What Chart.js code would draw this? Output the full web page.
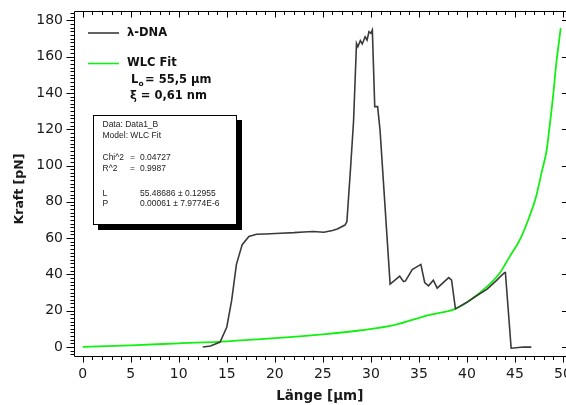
<!DOCTYPE html>
<html>
<head>
<meta charset="utf-8">
<script src="https://cdn.jsdelivr.net/npm/chart.js@4.4.1/dist/chart.umd.min.js"></script>
<style>
  html, body { margin: 0; padding: 0; background: #fff; overflow: hidden; }
  #wrap { width: 566px; height: 405px; }
</style>
</head>
<body>
<div id="wrap"><canvas id="chart" width="566" height="405"></canvas></div>
<script>
// λ-DNA Messkurve (Länge in µm, Kraft in pN)
const dnaX = [12.5, 13.3, 14.3, 15.0, 15.5, 16.0, 16.6, 17.3, 18.1, 19.0, 20.6, 22.0, 23.0, 24.0, 25.1, 26.0, 26.5, 27.3, 27.5, 27.9,
              28.2, 28.5, 28.65, 28.9, 29.1, 29.4, 29.6, 29.8, 30.0, 30.15, 30.4, 30.7, 30.95, 32.0, 33.0, 33.4, 33.6, 34.3, 35.2, 35.6,
              36.0, 36.5, 36.9, 38.1, 38.4, 38.8, 40.0, 41.0, 42.1, 43.0, 43.9, 44.0, 44.6, 45.9, 46.7];
const dnaY = [0, 0.5, 2.7, 11, 25.5, 45.5, 56.4, 60.9, 62.1, 62.3, 62.7, 63.0, 63.4, 63.6, 63.2, 64.2, 65.0, 67.2, 69, 100,
              125, 167.4, 165.5, 168.9, 167, 171, 169.2, 173.8, 172.9, 174.7, 132.5, 132.5, 119.6, 34.6, 39, 36, 36.4, 42.7, 45.5, 35.5,
              33.7, 36.8, 32.4, 38.2, 36.8, 21.0, 24.6, 28.2, 31.9, 36.3, 40.9, 41, -0.7, 0, -0.1];

// WLC Fit
const fitX = [0, 5, 10, 15, 20, 25, 29, 32.4, 35.9, 38.8, 40, 41.7, 43.4, 44.45, 45.5, 46.5, 47.2, 47.75, 48.3, 48.6, 48.96, 49.3, 49.76];
const fitY = [0, 0.9, 2.0, 3.1, 4.8, 6.9, 9.2, 12, 17.4, 21, 24.6, 31.4, 40.6, 49.8, 59, 71.8, 82.9, 95.7, 108.6, 121.4, 138, 156.4, 175.7];

const xTicks = [0, 5, 10, 15, 20, 25, 30, 35, 40, 45, 50];
const yTicks = [0, 20, 40, 60, 80, 100, 120, 140, 160, 180];

const statRows = [
  ['Data: Data1_B'],
  ['Model: WLC Fit'],
  [],
  ['Chi^2', '=', '0.04727'],
  ['R^2', '=', '0.9987'],
  [],
  ['L', '55.48686', '± 0.12955'],
  ['P', '0.00061', '± 7.9774E-6']
];

const FONT = '"DejaVu Sans", Verdana, sans-serif';
Chart.defaults.font.family = FONT;

function pts(xs, ys) { return xs.map((x, i) => ({ x: x, y: ys[i] })); }

const framePlugin = {
  id: 'frame',
  afterDraw(chart) {
    const { ctx, chartArea: a, scales: { x, y } } = chart;
    ctx.save();
    ctx.strokeStyle = '#000';
    ctx.lineWidth = 1;
    const L = Math.round(a.left) + 0.5, T = Math.round(a.top) + 0.5, B = Math.round(a.bottom) + 0.5, R = a.right;
    ctx.beginPath();
    ctx.moveTo(L, T); ctx.lineTo(R, T);
    ctx.moveTo(L, T); ctx.lineTo(L, B); ctx.lineTo(R, B);
    // x ticks, minor every 1
    for (let v = Math.ceil(x.min); v <= x.max; v++) {
      const px = Math.round(x.getPixelForValue(v)) + 0.5;
      const major = v % 5 === 0;
      ctx.moveTo(px, B); ctx.lineTo(px, B + (major ? 6 : 3.5));
      ctx.moveTo(px, T); ctx.lineTo(px, T + (major ? 6 : 3.5));
    }
    // y ticks, minor every 2
    for (let v = Math.ceil(y.min / 2) * 2; v <= y.max; v += 2) {
      const py = Math.round(y.getPixelForValue(v)) + 0.5;
      const major = v % 20 === 0;
      ctx.moveTo(L, py); ctx.lineTo(L - (major ? 8 : 4), py);
      if (major) { ctx.moveTo(R, py); ctx.lineTo(R - 4, py); }
    }
    ctx.stroke();

    // y-Achsentitel
    ctx.fillStyle = '#1a1a1a';
    ctx.font = 'bold 12.5px ' + FONT;
    ctx.textAlign = 'center';
    ctx.textBaseline = 'middle';
    ctx.translate(19.5, 189);
    ctx.rotate(-Math.PI / 2);
    ctx.fillText('Kraft [pN]', 0, 0);
    ctx.setTransform(1, 0, 0, 1, 0, 0);
    ctx.textAlign = 'left';

    // Legende
    ctx.fillStyle = '#111';
    ctx.lineWidth = 1.6;
    ctx.strokeStyle = chart.data.datasets[0].borderColor;
    ctx.beginPath(); ctx.moveTo(88, 33); ctx.lineTo(119, 33); ctx.stroke();
    ctx.strokeStyle = chart.data.datasets[1].borderColor;
    ctx.beginPath(); ctx.moveTo(88, 63.5); ctx.lineTo(119, 63.5); ctx.stroke();
    ctx.font = 'bold 11.5px ' + FONT;
    ctx.fillText(chart.data.datasets[0].label, 127, 33);
    ctx.fillText(chart.data.datasets[1].label, 127, 63.5);
    ctx.fillText('L', 131, 80);
    ctx.fillText('= 55,5 μm', 145, 80);
    ctx.fillText('ξ = 0,61 nm', 130, 96.5);
    ctx.font = 'bold 7.5px ' + FONT;
    ctx.fillText('o', 138.5, 84);

    // Statistik-Box
    ctx.fillStyle = '#000';
    ctx.fillRect(98, 120, 144, 110);
    ctx.fillStyle = '#fff';
    ctx.fillRect(93, 115, 144, 110);
    ctx.lineWidth = 1;
    ctx.strokeStyle = '#000';
    ctx.strokeRect(93.5, 115.5, 143, 109);
    ctx.fillStyle = '#222';
    ctx.font = '8.5px "Liberation Sans", Arial, sans-serif';
    const rowY = [125, 135.5, 146, 157.5, 168.5, 181, 193.5, 204];
    const cols = [
      [102.5], [102.5], [], [102.5, 130, 140], [102.5, 130, 140], [], [102.5, 140, 172.5], [102.5, 140, 168]
    ];
    statRows.forEach((row, i) => {
      let end = 0;
      row.forEach((t, j) => {
        const cx = Math.max(cols[i][j], end + 2.5);
        ctx.fillText(t, cx, rowY[i]);
        end = cx + ctx.measureText(t).width;
      });
    });
    ctx.restore();
  }
};

new Chart(document.getElementById('chart'), {
  type: 'scatter',
  data: {
    datasets: [
      { label: 'λ-DNA', data: pts(dnaX, dnaY), showLine: true, borderColor: '#3a3a3a', borderWidth: 1.6,
        pointRadius: 0, tension: 0 },
      { label: 'WLC Fit', data: pts(fitX, fitY), showLine: true, borderColor: '#12f012', borderWidth: 1.8,
        pointRadius: 0, cubicInterpolationMode: 'monotone' }
    ]
  },
  options: {
    responsive: false,
    animation: false,
    devicePixelRatio: 1,
    layout: { padding: { top: 11, right: 0, bottom: 0, left: 0 } },
    plugins: { legend: { display: false }, tooltip: { enabled: false } },
    scales: {
      x: {
        type: 'linear', min: -0.96, max: 50.31,
        afterBuildTicks: s => { s.ticks = xTicks.map(v => ({ value: v })); },
        afterFit: s => { s.height = 49; s.paddingLeft = 0; s.paddingRight = 0; },
        grid: { display: false, drawTicks: false, tickLength: 0 }, border: { display: false },
        ticks: { color: '#1a1a1a', font: { size: 14 }, padding: 10, maxRotation: 0, autoSkip: false },
        title: { display: true, text: 'Länge [μm]', color: '#1a1a1a',
                 font: { size: 13.5, weight: 'bold' }, padding: { top: 0, bottom: 0.5 } }
      },
      y: {
        type: 'linear', min: -5, max: 185.2,
        afterBuildTicks: s => { s.ticks = yTicks.map(v => ({ value: v })); },
        afterFit: s => { s.width = 73.5; s.paddingTop = 0; s.paddingBottom = 0; },
        grid: { display: false, drawTicks: false, tickLength: 0 }, border: { display: false },
        ticks: { color: '#1a1a1a', font: { size: 14 }, padding: 10.5, autoSkip: false },
        title: { display: false }
      }
    }
  },
  plugins: [framePlugin]
});
</script>
</body>
</html>
